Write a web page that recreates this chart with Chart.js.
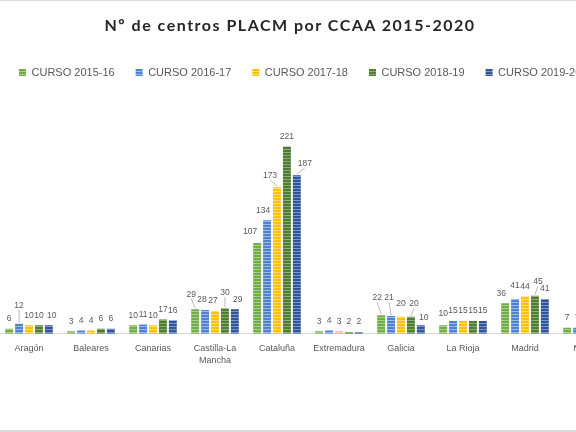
<!DOCTYPE html>
<html>
<head>
<meta charset="utf-8">
<script src="https://cdn.jsdelivr.net/npm/chart.js@4.4.0/dist/chart.umd.min.js"></script>
<style>
  html, body { margin: 0; padding: 0; background: #fff; }
  #marco { position: relative; width: 576px; height: 432px; overflow: hidden; background: #fff; }
  #titulo { position: absolute; left: 0; top: 15px; width: 580px; line-height: 20px; text-align: center;
            font: bold 16px Lato, "Open Sans", sans-serif; letter-spacing: 1.5px; color: #262626; }
  #lienzo { position: absolute; left: -2px; top: 0; width: 620px; height: 432px; }
  .borde { position: absolute; left: 0; width: 576px; background: #d9d9d9; }
</style>
</head>
<body>
<div id="marco">
  <div class="borde" style="top:0;height:1px"></div>
  <div id="lienzo"><canvas id="graficoCentros"></canvas></div>
  <div id="titulo">Nº de centros PLACM por CCAA 2015-2020</div>
  <div class="borde" style="top:430px;height:2px"></div>
</div>
<script>
// datos (Murcia queda cortada a la derecha)
const comunidades = ['Aragón', 'Baleares', 'Canarias', ['Castilla-La', 'Mancha'], 'Cataluña',
                     'Extremadura', 'Galicia', 'La Rioja', 'Madrid', 'Murcia'];
const cursos = ['CURSO 2015-16', 'CURSO 2016-17', 'CURSO 2017-18', 'CURSO 2018-19', 'CURSO 2019-20'];
const curso1516 = [6, 3, 10, 29, 107, 3, 22, 10, 36, 7];
const curso1617 = [12, 4, 11, 28, 134, 4, 21, 15, 41, 7];
const curso1718 = [10, 4, 10, 27, 173, 3, 20, 15, 44, null];
const curso1819 = [10, 6, 17, 30, 221, 2, 20, 15, 45, null];
const curso1920 = [10, 6, 16, 29, 187, 2, 10, 15, 41, null];

// colores de cada curso: [base, raya clara]
const colores = [
  ['#70AD47', '#A9D18E'],
  ['#4E81D0', '#9DB9E6'],
  ['#FFC000', '#FFE07F'],
  ['#4E7D31', '#8BAA76'],
  ['#2F5597', '#7F97C6']
];

// desplazamiento de algunas etiquetas (comunidad-curso): [dx, dy, linea guia]
const desplaza = {
  '0-1': [0, -8, true], '0-4': [3, 0],
  '3-0': [-4, -5, true], '3-1': [-3, 0], '3-2': [-2, 0], '3-3': [0, -6, true], '3-4': [3, 0],
  '4-0': [-7, -1], '4-1': [-4, 0], '4-2': [-7, -2, true], '4-4': [8, -2, true],
  '6-0': [-4, -7, true], '6-1': [-2, -8, true], '6-2': [0, -3], '6-3': [3, -3, true], '6-4': [3, 2],
  '7-0': [0, -2],
  '8-0': [-4, 0], '8-1': [0, -3], '8-3': [3, -4, true]
};

// relleno con rayas horizontales como en Excel
function rayado(base, claro) {
  const c = document.createElement('canvas');
  c.width = 4; c.height = 3;
  const g = c.getContext('2d');
  g.fillStyle = base; g.fillRect(0, 0, 4, 3);
  g.fillStyle = claro; g.fillRect(0, 2, 4, 1);
  return g.createPattern(c, 'repeat');
}

const series = [curso1516, curso1617, curso1718, curso1819, curso1920];

const etiquetas = {
  id: 'etiquetas',
  afterDatasetsDraw(chart) {
    const ctx = chart.ctx;
    ctx.save();
    ctx.font = '8.5px "Liberation Sans", Arial, sans-serif';
    ctx.fillStyle = '#595959';
    ctx.strokeStyle = '#a6a6a6';
    ctx.lineWidth = 0.8;
    ctx.textAlign = 'center';
    ctx.textBaseline = 'middle';
    chart.data.datasets.forEach(function (ds, s) {
      chart.getDatasetMeta(s).data.forEach(function (bar, c) {
        const v = ds.data[c];
        if (v == null) return;
        const d = desplaza[c + '-' + s] || [0, 0, false];
        const x = bar.x + d[0];
        const y = bar.y - 10 + d[1];
        ctx.fillText(v, x, y);
        if (d[2]) {
          ctx.beginPath();
          ctx.moveTo(x, y + 4.5);
          ctx.lineTo(bar.x, bar.y - 1);
          ctx.stroke();
        }
      });
    });
    ctx.restore();
  }
};

var ctx = document.getElementById('graficoCentros').getContext('2d');

var config = {
  type: 'bar',
  data: {
    labels: comunidades,
    datasets: series.map(function (datos, i) {
      return {
        label: cursos[i],
        data: datos,
        backgroundColor: rayado(colores[i][0], colores[i][1]),
        borderWidth: 0,
        categoryPercentage: 0.8,
        barPercentage: 0.8
      };
    })
  },
  options: {
    responsive: true,
    maintainAspectRatio: false,
    animation: false,
    events: [],
    layout: { padding: { top: 46, bottom: 57, left: 0, right: 0 } },
    plugins: {
      title: { display: false },
      tooltip: { enabled: false },
      legend: {
        position: 'top',
        align: 'start',
        labels: {
          boxWidth: 7,
          boxHeight: 7,
          padding: 21,
          color: '#595959',
          font: { family: '"Liberation Sans", Arial, sans-serif', size: 11 }
        }
      }
    },
    scales: {
      x: {
        grid: { display: false, drawTicks: false },
        border: { display: true, color: '#d9d9d9', width: 1 },
        ticks: {
          color: '#595959',
          padding: 8,
          maxRotation: 0,
          autoSkip: false,
          font: { family: '"Liberation Sans", Arial, sans-serif', size: 9, lineHeight: 1.4 }
        }
      },
      y: {
        display: false,
        beginAtZero: true,
        min: 0,
        max: 290
      }
    }
  },
  plugins: [etiquetas]
};

var graficoCentros = new Chart(ctx, config);
</script>
</body>
</html>
